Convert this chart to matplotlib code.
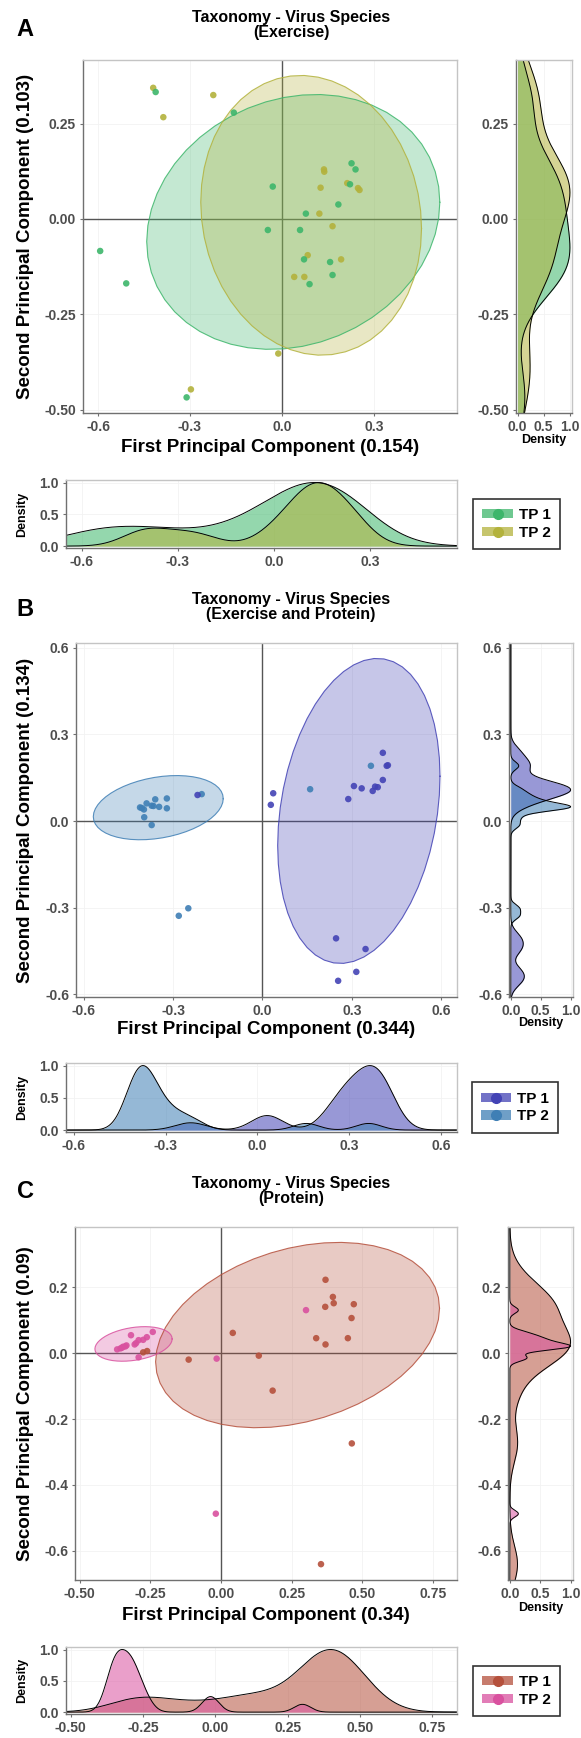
import numpy as np
import matplotlib
matplotlib.use("Agg")
import matplotlib.pyplot as plt
from matplotlib.patches import Patch
from matplotlib.lines import Line2D
from matplotlib.legend_handler import HandlerTuple

plt.rcParams['font.family'] = ['Liberation Sans', 'DejaVu Sans']
plt.rcParams['font.weight'] = 'bold'
plt.rcParams['axes.unicode_minus'] = False

# ---------------- DATA ----------------
groups = ["TP 1", "TP 2"]

# Panel A (Exercise)
a_title = "Taxonomy - Virus Species\n(Exercise)"
a_xlabel = "First Principal Component (0.154)"
a_ylabel = "Second Principal Component (0.103)"
a_tp1_x = [-0.412, -0.157, -0.030, 0.227, 0.240, 0.222, 0.184, 0.078, -0.046, 0.059,
           -0.593, -0.508, 0.072, 0.157, 0.165, 0.090, -0.311]
a_tp1_y = [0.333, 0.279, 0.085, 0.146, 0.130, 0.091, 0.038, 0.014, -0.029, -0.029,
           -0.084, -0.169, -0.106, -0.113, -0.147, -0.171, -0.468]
a_tp2_x = [-0.420, -0.387, -0.224, 0.137, 0.138, 0.126, 0.213, 0.248, 0.253, 0.122,
           0.165, 0.084, 0.193, 0.040, 0.073, -0.012, -0.297]
a_tp2_y = [0.344, 0.267, 0.325, 0.130, 0.124, 0.082, 0.094, 0.081, 0.076, 0.014,
           -0.019, -0.095, -0.106, -0.152, -0.152, -0.353, -0.447]
a_xticks = [-0.6, -0.3, 0.0, 0.3]
a_xticklabels = ["-0.6", "-0.3", "0.0", "0.3"]
a_yticks = [-0.50, -0.25, 0.00, 0.25]
a_yticklabels = ["-0.50", "-0.25", "0.00", "0.25"]

# Panel B (Exercise and Protein)
b_title = "Taxonomy - Virus Species\n(Exercise and Protein)"
b_xlabel = "First Principal Component (0.344)"
b_ylabel = "Second Principal Component (0.134)"
b_tp1_x = [-0.218, 0.036, 0.028, 0.404, 0.417, 0.421, 0.307, 0.333, 0.378, 0.387,
           0.370, 0.404, 0.288, 0.247, 0.346, 0.315, 0.254]
b_tp1_y = [0.090, 0.096, 0.056, 0.236, 0.191, 0.193, 0.121, 0.113, 0.119, 0.117,
           0.104, 0.142, 0.076, -0.406, -0.443, -0.522, -0.553]
b_tp2_x = [-0.411, -0.398, -0.389, -0.372, -0.360, -0.347, -0.321, -0.321, -0.397, -0.372,
           -0.204, 0.364, 0.160, -0.281, -0.249, -0.405, -0.366]
b_tp2_y = [0.047, 0.040, 0.061, 0.053, 0.075, 0.049, 0.078, 0.044, 0.013, -0.014,
           0.093, 0.191, 0.110, -0.328, -0.302, 0.045, 0.052]
b_xticks = [-0.6, -0.3, 0.0, 0.3, 0.6]
b_xticklabels = ["-0.6", "-0.3", "0.0", "0.3", "0.6"]
b_yticks = [-0.6, -0.3, 0.0, 0.3, 0.6]
b_yticklabels = ["-0.6", "-0.3", "0.0", "0.3", "0.6"]

# Panel C (Protein)
c_title = "Taxonomy - Virus Species\n(Protein)"
c_xlabel = "First Principal Component (0.34)"
c_ylabel = "Second Principal Component (0.09)"
c_tp1_x = [0.370, 0.396, 0.399, 0.369, 0.470, 0.462, 0.337, 0.449, 0.370, 0.042,
           -0.114, 0.134, 0.183, -0.275, -0.261, 0.463, 0.354]
c_tp1_y = [0.222, 0.170, 0.151, 0.140, 0.148, 0.106, 0.045, 0.045, 0.026, 0.061,
           -0.020, -0.008, -0.114, 0.002, 0.006, -0.274, -0.640]
c_tp2_x = [0.301, -0.015, -0.318, -0.241, -0.262, -0.291, -0.305, -0.334, -0.346, -0.355,
           -0.367, -0.291, -0.018, -0.350, -0.338, -0.300, -0.275]
c_tp2_y = [0.130, -0.017, 0.054, 0.064, 0.048, 0.039, 0.026, 0.023, 0.019, 0.014,
           0.011, -0.013, -0.487, 0.016, 0.020, 0.030, 0.040]
c_xticks = [-0.50, -0.25, 0.00, 0.25, 0.50, 0.75]
c_xticklabels = ["-0.50", "-0.25", "0.00", "0.25", "0.50", "0.75"]
c_yticks = [-0.6, -0.4, -0.2, 0.0, 0.2]
c_yticklabels = ["-0.6", "-0.4", "-0.2", "0.0", "0.2"]

dens_ticks = [0.0, 0.5, 1.0]
dens_ticklabels = ["0.0", "0.5", "1.0"]

# ---------------- STYLE / LAYOUT ----------------
W, H = 581, 1738
fig = plt.figure(figsize=(W / 100, H / 100), dpi=100)

TICK_COL = '#4D4D4D'
AXIS_COL = '#707070'
BORDER_COL = '#C4C4C4'
ELLIPSE_LEVEL = 0.90


def rect(l, r, t, b):
    return [l / W, 1 - b / H, (r - l) / W, (b - t) / H]


def stat_ellipse(x, y, level=ELLIPSE_LEVEL, nu=5, maxit=25, tol=0.01, segments=51):
    """ggplot2 stat_ellipse(type='t') via MASS::cov.trob."""
    pts = np.column_stack([x, y]).astype(float)
    n, p = pts.shape
    wt = np.ones(n)
    loc = pts.mean(axis=0)
    w = np.sqrt(wt)
    X = pts - loc
    for _ in range(maxit):
        w0 = w
        X = pts - loc
        _, d, vt = np.linalg.svd(np.sqrt(w / w.sum())[:, None] * X, full_matrices=False)
        wX = X @ vt.T @ np.diag(1.0 / d)
        Q = (wX ** 2).sum(axis=1)
        w = (wt * (nu + p)) / (nu + Q)
        loc = (w[:, None] * pts).sum(axis=0) / w.sum()
        if np.all(np.abs(w - w0) < tol):
            break
    sw = np.sqrt(w)[:, None] * X
    cov = sw.T @ sw / wt.sum()
    dfd = n - 1
    qf = dfd / 2.0 * ((1 - level) ** (-2.0 / dfd) - 1)
    radius = np.sqrt(2 * qf)
    ang = np.linspace(0, 2 * np.pi, segments)
    circ = np.column_stack([np.cos(ang), np.sin(ang)])
    R = np.linalg.cholesky(cov).T
    e = loc + radius * (circ @ R)
    return e[:, 0], e[:, 1]


def kde_scaled(v, lo, hi, n=512):
    v = np.asarray(v, float)
    sd = v.std(ddof=1)
    q75, q25 = np.percentile(v, [75, 25])
    bw = 0.9 * min(sd, (q75 - q25) / 1.34) * len(v) ** -0.2
    g = np.linspace(lo, hi, n)
    d = np.exp(-0.5 * ((g[:, None] - v[None, :]) / bw) ** 2).sum(axis=1)
    return g, d / d.max()


def style_ax(ax):
    for s in ['top', 'right']:
        ax.spines[s].set_color(BORDER_COL)
        ax.spines[s].set_linewidth(1.0)
    for s in ['left', 'bottom']:
        ax.spines[s].set_color(AXIS_COL)
        ax.spines[s].set_linewidth(1.0)
    ax.tick_params(colors=AXIS_COL, labelcolor=TICK_COL, labelsize=10,
                   length=2.5, width=0.8, pad=2.5)
    ax.grid(True, color='#F2F2F2', lw=0.6)
    ax.set_axisbelow(True)


def draw_panel(P):
    tp1x, tp1y, tp2x, tp2y = P['data']
    c1, c2 = P['colors']
    xlim, ylim = P['xlim'], P['ylim']

    # ---- main scatter ----
    ax = fig.add_axes(rect(*P['main']))
    style_ax(ax)
    ax.axhline(0, color='#555555', lw=1.0, zorder=1)
    ax.axvline(0, color='#555555', lw=1.0, zorder=1)
    for xs, ys, c in [(tp1x, tp1y, c1), (tp2x, tp2y, c2)]:
        ex, ey = stat_ellipse(xs, ys)
        ax.fill(ex, ey, facecolor=c, alpha=0.3, edgecolor='none', zorder=2)
        ax.plot(ex, ey, color=c, lw=0.8, alpha=0.85, zorder=2.1)
    for xs, ys, c in [(tp2x, tp2y, c2), (tp1x, tp1y, c1)]:
        ax.scatter(xs, ys, s=22, color=c, alpha=0.9, edgecolors='none', zorder=3)
    ax.set_xlim(xlim)
    ax.set_ylim(ylim)
    ax.set_xticks(P['xticks'])
    ax.set_xticklabels(P['xtl'])
    ax.set_yticks(P['yticks'])
    ax.set_yticklabels(P['ytl'])

    ml, mr, mt, mb = P['main']
    fig.text(((ml + mr) / 2) / W, 1 - P['xlabel_y'] / H, P['xlabel'], ha='center', va='center',
             fontsize=13.5)
    fig.text(26 / W, 1 - ((mt + mb) / 2) / H, P['ylabel'], ha='center', va='center',
             rotation=90, fontsize=13.5)
    fig.text(291 / W, 1 - P['title_y'] / H, P['title'], ha='center', va='center',
             fontsize=11.5, linespacing=1.05)
    fig.text(25 / W, 1 - P['letter_y'] / H, P['letter'], ha='center', va='center',
             fontsize=17)

    # ---- right density (y) ----
    axr = fig.add_axes(rect(*P['right']))
    style_ax(axr)
    for vals, c in [(tp1y, c1), (tp2y, c2)]:
        g, d = kde_scaled(vals, ylim[0], ylim[1])
        axr.fill_betweenx(g, 0, d, color=c, alpha=0.55, lw=0)
        axr.plot(d, g, color='black', lw=0.7)
    axr.set_ylim(ylim)
    axr.set_xlim(-0.03, 1.04)
    axr.set_yticks(P['yticks'])
    axr.set_yticklabels(P['ytl'])
    axr.set_xticks(dens_ticks)
    axr.set_xticklabels(dens_ticklabels)
    rl, rr, rt, rb = P['right']
    fig.text(((rl + rr) / 2) / W, 1 - P['xlabel_y'] / H + 7 / H, "Density", ha='center',
             va='center', fontsize=9)

    # ---- bottom density (x) ----
    axb = fig.add_axes(rect(*P['bottom']))
    style_ax(axb)
    for vals, c in [(tp1x, c1), (tp2x, c2)]:
        g, d = kde_scaled(vals, xlim[0], xlim[1])
        axb.fill_between(g, 0, d, color=c, alpha=0.55, lw=0)
        axb.plot(g, d, color='black', lw=0.7)
    axb.set_xlim(xlim)
    axb.set_ylim(-0.03, 1.04)
    axb.set_xticks(P['xticks'])
    axb.set_xticklabels(P['xtl'])
    axb.set_yticks(dens_ticks)
    axb.set_yticklabels(dens_ticklabels)
    bl, br, bt, bb = P['bottom']
    fig.text(22 / W, 1 - ((bt + bb) / 2) / H, "Density", ha='center', va='center',
             rotation=90, fontsize=9)

    # ---- legend ----
    ll, lr, lt, lb = P['legend']
    handles = [(Patch(facecolor=c, alpha=0.75, edgecolor='none'),
                Line2D([], [], ls='', marker='o', ms=7, color=c))
               for c in (c1, c2)]
    leg = fig.legend(handles, groups, loc='center',
                     bbox_to_anchor=(((ll + lr) / 2) / W, 1 - ((lt + lb) / 2) / H),
                     handler_map={tuple: HandlerTuple(ndivide=1)},
                     fontsize=11, frameon=True, fancybox=False, edgecolor='black',
                     handlelength=2.0, handleheight=0.55, handletextpad=0.4,
                     labelspacing=0.25, borderpad=0.6, borderaxespad=0)
    leg.get_frame().set_linewidth(1.2)


panels = [
    dict(letter='A', title=a_title, xlabel=a_xlabel, ylabel=a_ylabel,
         data=(a_tp1_x, a_tp1_y, a_tp2_x, a_tp2_y), colors=('#3DB66B', '#B3B23C'),
         xlim=(-0.649, 0.571), ylim=(-0.509, 0.417),
         xticks=a_xticks, xtl=a_xticklabels, yticks=a_yticks, ytl=a_yticklabels,
         main=(83, 457, 60, 413), right=(516, 572, 60, 413), bottom=(66, 457, 480, 548),
         legend=(473, 560, 498, 550), title_y=25, letter_y=29, xlabel_y=447),
    dict(letter='B', title=b_title, xlabel=b_xlabel, ylabel=b_ylabel,
         data=(b_tp1_x, b_tp1_y, b_tp2_x, b_tp2_y), colors=('#4343B5', '#3F7FB5'),
         xlim=(-0.626, 0.653), ylim=(-0.609, 0.616),
         xticks=b_xticks, xtl=b_xticklabels, yticks=b_yticks, ytl=b_yticklabels,
         main=(76, 457, 643, 997), right=(509, 573, 643, 997), bottom=(66, 457, 1063, 1132),
         legend=(472, 558, 1082, 1133), title_y=607, letter_y=610, xlabel_y=1030),
    dict(letter='C', title=c_title, xlabel=c_xlabel, ylabel=c_ylabel,
         data=(c_tp1_x, c_tp1_y, c_tp2_x, c_tp2_y), colors=('#B5503C', '#D9519F'),
         xlim=(-0.516, 0.835), ylim=(-0.688, 0.382),
         xticks=c_xticks, xtl=c_xticklabels, yticks=c_yticks, ytl=c_yticklabels,
         main=(75, 457, 1227, 1580), right=(508, 573, 1227, 1580), bottom=(66, 457, 1647, 1714),
         legend=(473, 560, 1665, 1717), title_y=1191, letter_y=1192, xlabel_y=1615),
]

for P in panels:
    draw_panel(P)

fig.savefig('out.png', dpi=100, facecolor='white')
